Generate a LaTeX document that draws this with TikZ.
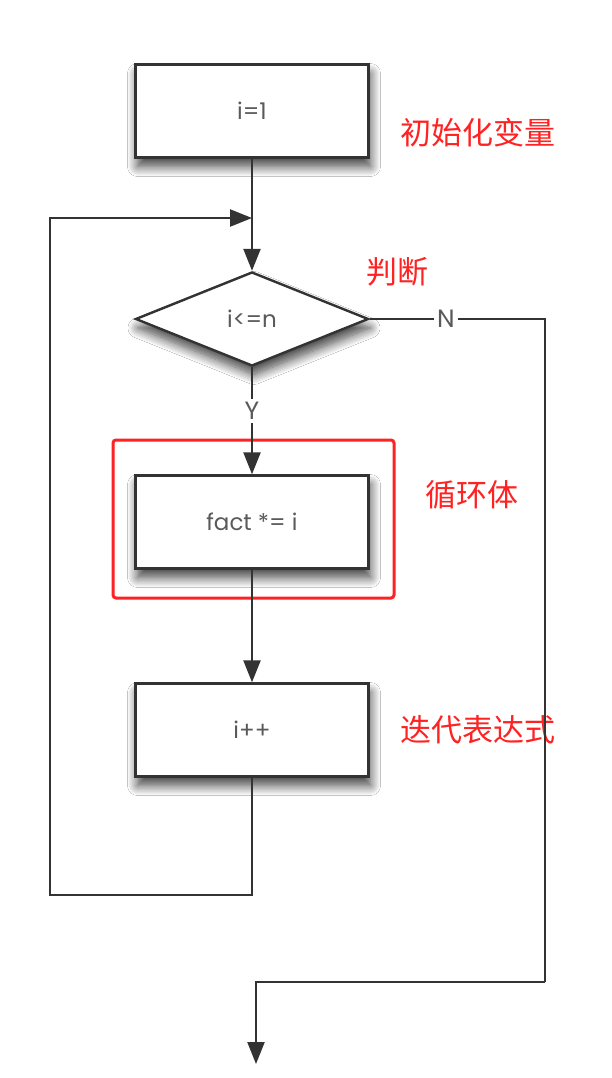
\documentclass[tikz,border=0pt]{standalone}
\usepackage{fontspec}
\setmainfont{Poppins}
\newfontfamily\cjk{Noto Sans CJK SC}
\usetikzlibrary{arrows.meta,shapes.geometric,shadows,shadows.blur}
\definecolor{ln}{HTML}{333333}
\definecolor{txt}{HTML}{5A5A5A}
\definecolor{redl}{HTML}{FF2222}
\tikzset{
  softshadow/.style={blur shadow={shadow xshift=2pt,shadow yshift=-9pt,shadow blur radius=10pt,
    shadow blur steps=14,shadow opacity=75}},
  procbox/.style={draw=ln,line width=2.4pt,fill=white,minimum width=233pt,minimum height=93pt,
    inner sep=0pt,font=\fontsize{23}{27}\selectfont,text=txt,softshadow},
  decbox/.style={draw=ln,line width=2.4pt,fill=white,diamond,aspect=2.48,minimum width=233pt,
    minimum height=94pt,inner sep=0pt,font=\fontsize{23}{27}\selectfont,text=txt,softshadow},
  conn/.style={draw=ln,line width=2.4pt},
  arr/.style={conn,-{Triangle[length=22pt,width=17pt]}},
  lbl/.style={font=\fontsize{25}{29}\selectfont,text=txt,inner sep=3pt},
  note/.style={font=\cjk\fontsize{31}{36}\selectfont,text=redl,inner sep=0pt},
  hilite/.style={draw=redl,line width=3pt,rounded corners=3pt}
}
\begin{document}
\begin{tikzpicture}[x=1pt,y=-1pt]
\useasboundingbox (0,0) rectangle (612,1078);
\fill[white] (0,0) rectangle (612,1078);
% nodes
\node[procbox] (init) at (252,111) {i=1};
\node[decbox] (cond) at (252,319) {i<=n};
\node[procbox] (body) at (252,522) {fact *= i};
\node[procbox] (iter) at (252,730) {i++};
\node[lbl] (Y) at (252,411) {Y};
\node[lbl] (N) at (446,319) {N};
\coordinate (merge) at (252,218);
\coordinate (loopL) at (50,895);
\coordinate (rdown) at (545,982);
\coordinate (theend) at (256,1064);
% highlight
\draw[hilite] (113,440) rectangle (394,598);
% notes
\node[note] (n1) at (478,133) {初始化变量};
\node[note] (n2) at (397,272) {判断};
\node[note] (n3) at (472,495) {循环体};
\node[note] (n4) at (478,730) {迭代表达式};
% connectors
\draw[conn] (init.south) -- (merge);
\draw[arr] (merge) -- (cond.north);
\draw[conn] (cond.south) -- (Y.north);
\draw[arr] (Y.south) -- (body.north);
\draw[arr] (body.south) -- (iter.north);
\draw[arr] (iter.south) |- (loopL) |- (merge);
\draw[conn] (cond.east) -- (N.west);
\draw[conn] (N.east) -| (rdown);
\draw[arr] (rdown) -| (theend);
\end{tikzpicture}
\end{document}
